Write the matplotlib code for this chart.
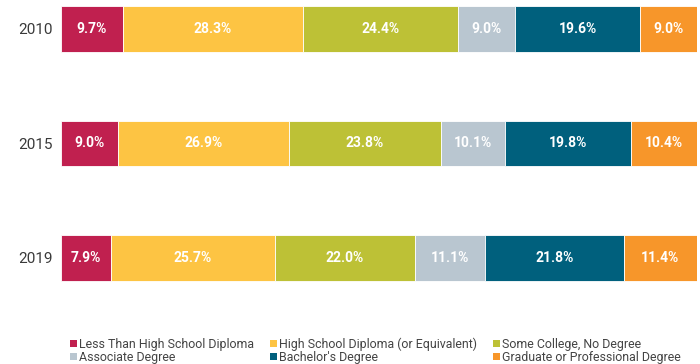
import matplotlib.pyplot as plt
from matplotlib.patches import Patch

plt.rcParams['font.family'] = ['Roboto', 'DejaVu Sans']

# education attainment shares by year (percent)
years = ['2010', '2015', '2019']
categories = [
    'Less Than High School Diploma',
    'High School Diploma (or Equivalent)',
    'Some College, No Degree',
    'Associate Degree',
    "Bachelor's Degree",
    'Graduate or Professional Degree',
]
less_hs = [9.7, 9.0, 7.9]
hs_diploma = [28.3, 26.9, 25.7]
some_college = [24.4, 23.8, 22.0]
associate = [9.0, 10.1, 11.1]
bachelor = [19.6, 19.8, 21.8]
graduate = [9.0, 10.4, 11.4]

series = [less_hs, hs_diploma, some_college, associate, bachelor, graduate]
colors = ['#C0204F', '#FDC443', '#BDC136', '#B9C6D0', '#00607D', '#F7962A']

fig = plt.figure(figsize=(7, 3.64), dpi=100)
ax = fig.add_axes([0.087, 0.176, 0.909, 0.824])

ypos = list(range(len(years)))
left = [0.0] * len(years)
for vals, col in zip(series, colors):
    ax.barh(ypos, vals, left=left, height=0.40, color=col,
            edgecolor='white', linewidth=0.6)
    for y, v, l in zip(ypos, vals, left):
        ax.text(l + v / 2, y, f'{v:.1f}%', ha='center', va='center',
                color='white', fontsize=10, fontweight='bold')
    left = [a + b for a, b in zip(left, vals)]

ax.set_xlim(0, 100)
ax.set_ylim(2.367, -0.253)
ax.set_yticks(ypos)
ax.set_yticklabels(years, fontsize=11, color='#3a3a3a')
ax.tick_params(axis='y', length=0, pad=6)
ax.set_xticks([])
for s in ax.spines.values():
    s.set_visible(False)

# legend fills column-wise, so reorder to read across rows
order = [0, 3, 1, 4, 2, 5]
handles = [Patch(facecolor=colors[i], label=categories[i]) for i in order]
fig.legend(handles=handles, loc='lower left', bbox_to_anchor=(0.0845, -0.03),
           ncol=3, frameon=False, labelcolor='#444444', fontsize=8.9,
           handlelength=0.57, handleheight=0.6, handletextpad=0.15,
           columnspacing=1.3, labelspacing=0.0)

fig.savefig('out.png', dpi=100)
